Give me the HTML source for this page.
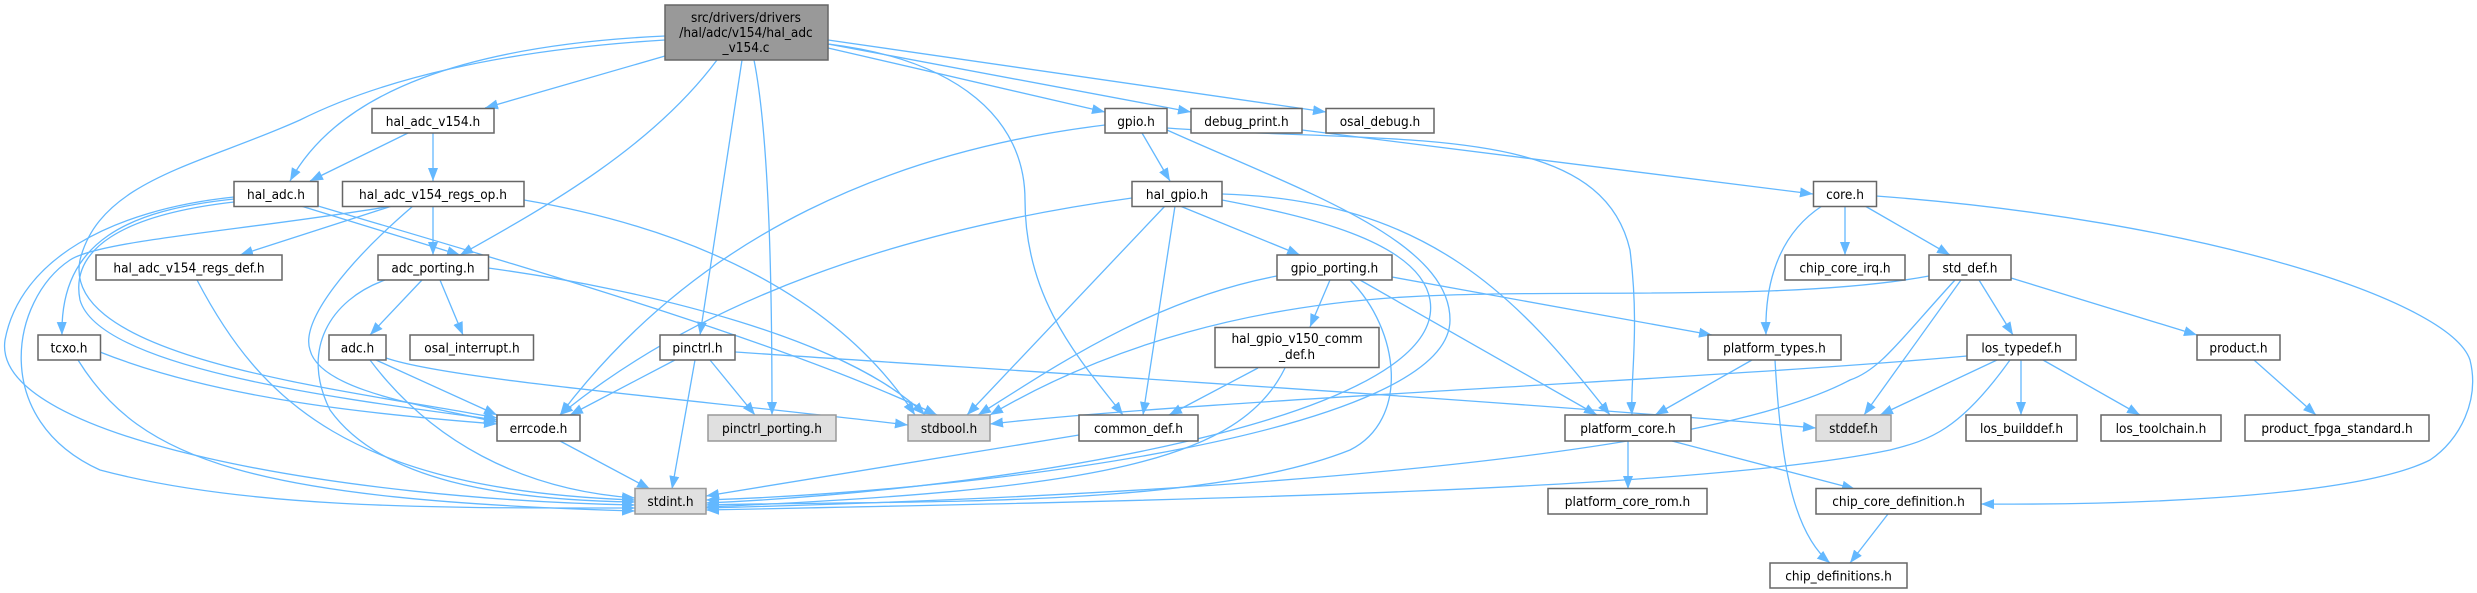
<!DOCTYPE html>
<html><head><meta charset="utf-8"><style>
html,body{margin:0;padding:0;background:#fff;}
svg{display:block}
text{font-family:"DejaVu Sans Condensed","DejaVu Sans","Liberation Sans",sans-serif;font-size:13.5px;fill:#000;text-anchor:middle;font-stretch:condensed}
.n{fill:#fff;stroke:#666;stroke-width:1.5}
.g{fill:#e0e0e0;stroke:#999;stroke-width:1.5}
.r{fill:#999;stroke:#666;stroke-width:1.5}
path.e{fill:none;stroke:#63b8ff;stroke-width:1.3;marker-end:url(#a)}
</style></head><body>
<svg width="2477" height="593" viewBox="0 0 2477 593" xmlns="http://www.w3.org/2000/svg">
<defs><marker id="a" markerUnits="userSpaceOnUse" markerWidth="13" markerHeight="11" viewBox="0 0 13 10" refX="13" refY="5" orient="auto"><path d="M0,0 L13,5 L0,10 z" fill="#63b8ff"/></marker></defs>
<g>
<!-- root edges -->
<path class="e" d="M665,56 L485,108"/>
<path class="e" d="M665,36 C470,45 340,90 290,181"/>
<path class="e" d="M665,40 C500,50 380,80 300,120 C200,165 100,180 80,260 C60,360 350,390 497,418"/>
<path class="e" d="M717,60 C650,150 540,210 460,255"/>
<path class="e" d="M742,60 L700,335"/>
<path class="e" d="M754,60 C770,140 772,300 772,415"/>
<path class="e" d="M828,44 C960,60 1025,120 1025,200 C1025,300 1080,360 1123,415"/>
<path class="e" d="M828,48 L1105,112"/>
<path class="e" d="M828,44 L1191,112"/>
<path class="e" d="M828,40 L1326,112"/>
<!-- hal_adc_v154 -->
<path class="e" d="M408,133 L310,181"/>
<path class="e" d="M433,133 L433,181"/>
<!-- hal_adc -->
<path class="e" d="M301,206 L460,255"/>
<path class="e" d="M318,206 C500,260 780,340 937,415"/>
<path class="e" d="M234,199 C130,210 60,240 62,335"/>
<path class="e" d="M234,197 C110,210 20,260 5,340 C-10,440 350,500 635,505"/>
<path class="e" d="M234,202 C120,215 70,250 80,300 C100,370 350,400 497,420"/>
<!-- regs_op -->
<path class="e" d="M392,206 L240,255"/>
<path class="e" d="M433,206 L433,255"/>
<path class="e" d="M413,206 C350,260 300,320 310,350 C320,390 420,405 497,422"/>
<path class="e" d="M524,200 C700,230 840,300 915,415"/>
<path class="e" d="M392,206 C250,230 100,240 70,260 C10,300 -10,420 100,470 C250,510 450,508 635,508"/>
<!-- regs_def -->
<path class="e" d="M197,280 C260,400 350,490 635,500"/>
<!-- adc_porting -->
<path class="e" d="M422,280 L370,335"/>
<path class="e" d="M440,280 L463,335"/>
<path class="e" d="M385,280 C330,300 300,350 330,410 C380,480 500,500 635,502"/>
<path class="e" d="M488,268 C650,290 850,340 925,415"/>
<!-- tcxo -->
<path class="e" d="M100,352 C220,400 380,415 497,424"/>
<path class="e" d="M78,360 C140,460 250,500 635,511"/>
<!-- adc.h -->
<path class="e" d="M376,360 L497,415"/>
<path class="e" d="M370,360 C430,440 520,490 635,498"/>
<path class="e" d="M386,358 C450,380 700,400 908,425"/>
<!-- pinctrl -->
<path class="e" d="M675,360 L570,415"/>
<path class="e" d="M695,360 L672,489"/>
<path class="e" d="M710,360 L755,415"/>
<path class="e" d="M735,352 C1000,370 1500,400 1816,428"/>
<!-- errcode -->
<path class="e" d="M560,441 L650,489"/>
<!-- gpio.h -->
<path class="e" d="M1142,133 L1170,181"/>
<path class="e" d="M1105,125 C900,150 700,230 560,415"/>
<path class="e" d="M1167,130 C1300,190 1450,240 1450,320 C1450,430 1000,490 706,500"/>
<path class="e" d="M1167,128 C1400,145 1600,120 1630,250 C1640,330 1630,380 1632,415"/>
<!-- debug_print -> core -->
<path class="e" d="M1302,130 L1813,194"/>
<!-- hal_gpio -->
<path class="e" d="M1180,206 L1300,255"/>
<path class="e" d="M1165,206 L967,415"/>
<path class="e" d="M1175,206 L1143,415"/>
<path class="e" d="M1132,198 C900,230 700,300 560,415"/>
<path class="e" d="M1222,200 C1300,215 1420,240 1430,300 C1450,420 1000,490 706,503"/>
<path class="e" d="M1222,194 C1430,200 1520,300 1610,415"/>
<!-- gpio_porting -->
<path class="e" d="M1330,280 L1310,327"/>
<path class="e" d="M1277,276 C1150,300 1050,370 978,415"/>
<path class="e" d="M1350,280 C1400,330 1410,420 1350,450 C1200,510 900,500 706,505"/>
<path class="e" d="M1360,280 L1597,415"/>
<path class="e" d="M1392,277 L1712,335"/>
<!-- hal_gpio_v150 -->
<path class="e" d="M1258,368 L1169,415"/>
<path class="e" d="M1285,368 C1240,460 1100,490 706,507"/>
<!-- common_def -->
<path class="e" d="M1079,435 L706,496"/>
<!-- core.h -->
<path class="e" d="M1822,206 C1770,240 1765,300 1766,335"/>
<path class="e" d="M1845,206 L1845,255"/>
<path class="e" d="M1865,206 L1950,255"/>
<path class="e" d="M1876,196 C2200,220 2450,300 2470,360 C2480,400 2460,440 2430,460 C2350,500 2100,505 1981,504"/>
<!-- std_def -->
<path class="e" d="M1929,276 C1800,300 1600,290 1450,295 C1250,300 1100,350 990,415"/>
<path class="e" d="M1955,280 C1900,340 1880,370 1850,380 C1700,460 1200,495 706,508"/>
<path class="e" d="M1961,280 L1864,415"/>
<path class="e" d="M1979,280 L2013,335"/>
<path class="e" d="M2011,278 L2197,335"/>
<!-- platform_types -->
<path class="e" d="M1752,360 L1655,415"/>
<path class="e" d="M1775,360 C1780,450 1790,530 1830,563"/>
<!-- los_typedef -->
<path class="e" d="M1967,356 C1700,380 1200,400 990,424"/>
<path class="e" d="M1997,360 L1880,415"/>
<path class="e" d="M2010,360 C1960,430 1930,440 1890,450 C1700,490 1200,500 706,510"/>
<path class="e" d="M2021,360 L2021,415"/>
<path class="e" d="M2043,360 L2140,415"/>
<!-- product -->
<path class="e" d="M2254,360 L2316,415"/>
<!-- platform_core -->
<path class="e" d="M1628,441 L1628,489"/>
<path class="e" d="M1672,441 L1855,489"/>
<!-- chip_core_definition -->
<path class="e" d="M1888,514 L1850,563"/>
</g>
<g>
<rect class="r" x="665" y="5" width="163" height="55"/>
<text x="746" y="22">src/drivers/drivers</text><text x="746" y="37">/hal/adc/v154/hal_adc</text><text x="746" y="52">_v154.c</text>

<rect class="n" x="372" y="108.5" width="122" height="24.5"/><text x="433" y="126">hal_adc_v154.h</text>
<rect class="n" x="1105" y="108.5" width="62" height="24.5"/><text x="1136" y="126">gpio.h</text>
<rect class="n" x="1191" y="108.5" width="111" height="24.5"/><text x="1246.5" y="126">debug_print.h</text>
<rect class="n" x="1326" y="108.5" width="108" height="24.5"/><text x="1380" y="126">osal_debug.h</text>

<rect class="n" x="234" y="181.5" width="84" height="25"/><text x="276" y="199">hal_adc.h</text>
<rect class="n" x="342.5" y="181.5" width="181.5" height="25"/><text x="433" y="199">hal_adc_v154_regs_op.h</text>
<rect class="n" x="1132" y="181.5" width="90" height="25"/><text x="1177" y="199">hal_gpio.h</text>
<rect class="n" x="1813.5" y="181.5" width="63" height="25"/><text x="1845" y="199">core.h</text>

<rect class="n" x="96" y="255" width="186" height="25"/><text x="189" y="272.5">hal_adc_v154_regs_def.h</text>
<rect class="n" x="378" y="255" width="110.5" height="25"/><text x="433" y="272.5">adc_porting.h</text>
<rect class="n" x="1277" y="255" width="115" height="25"/><text x="1334.5" y="272.5">gpio_porting.h</text>
<rect class="n" x="1785" y="255" width="120" height="25"/><text x="1845" y="272.5">chip_core_irq.h</text>
<rect class="n" x="1929" y="255" width="82" height="25"/><text x="1970" y="272.5">std_def.h</text>

<rect class="n" x="38" y="335" width="62.5" height="25"/><text x="69" y="352.5">tcxo.h</text>
<rect class="n" x="329" y="335" width="57" height="25"/><text x="357.5" y="352.5">adc.h</text>
<rect class="n" x="410" y="335" width="123.5" height="25"/><text x="472" y="352.5">osal_interrupt.h</text>
<rect class="n" x="660" y="335" width="75" height="25"/><text x="697.5" y="352.5">pinctrl.h</text>
<rect class="n" x="1215" y="327.5" width="164" height="40"/><text x="1297" y="343">hal_gpio_v150_comm</text><text x="1297" y="359">_def.h</text>
<rect class="n" x="1708" y="335" width="133" height="25"/><text x="1774.5" y="352.5">platform_types.h</text>
<rect class="n" x="1967" y="335" width="109" height="25"/><text x="2021.5" y="352.5">los_typedef.h</text>
<rect class="n" x="2197" y="335" width="83" height="25"/><text x="2238.5" y="352.5">product.h</text>

<rect class="n" x="497" y="415" width="83" height="26"/><text x="538.5" y="433">errcode.h</text>
<rect class="g" x="708" y="415" width="128" height="26"/><text x="772" y="433">pinctrl_porting.h</text>
<rect class="g" x="908" y="415" width="82" height="26"/><text x="949" y="433">stdbool.h</text>
<rect class="n" x="1079" y="415" width="119" height="26"/><text x="1138.5" y="433">common_def.h</text>
<rect class="n" x="1565" y="415" width="126" height="26"/><text x="1628" y="433">platform_core.h</text>
<rect class="g" x="1816" y="415" width="75" height="26"/><text x="1853.5" y="433">stddef.h</text>
<rect class="n" x="1966" y="415" width="111" height="26"/><text x="2021.5" y="433">los_builddef.h</text>
<rect class="n" x="2101" y="415" width="120" height="26"/><text x="2161" y="433">los_toolchain.h</text>
<rect class="n" x="2245" y="415" width="184" height="26"/><text x="2337" y="433">product_fpga_standard.h</text>

<rect class="g" x="635" y="488.5" width="71" height="25.5"/><text x="670.5" y="506">stdint.h</text>
<rect class="n" x="1548" y="488.5" width="159" height="25.5"/><text x="1627.5" y="506">platform_core_rom.h</text>
<rect class="n" x="1816" y="488.5" width="165" height="25.5"/><text x="1898.5" y="506">chip_core_definition.h</text>

<rect class="n" x="1770" y="563" width="137" height="25"/><text x="1838.5" y="580.5">chip_definitions.h</text>
</g>
</svg>
</body></html>
